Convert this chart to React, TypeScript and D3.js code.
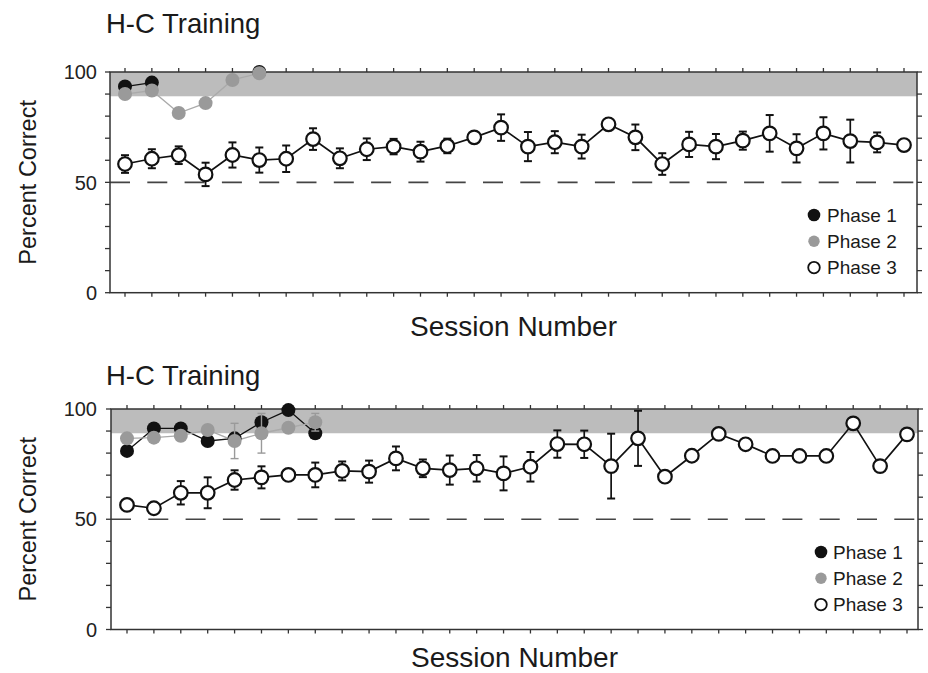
import React, { useEffect, useRef } from 'react';
import * as d3 from 'd3';

// sessions 1..30
const sessions: number[] = d3.range(1, 31);

// top panel
const topPhase1: (number | null)[] = [93.4, 95.2, null, null, null, 100];
const topPhase2: (number | null)[] = [90, 91.6, 81.4, 85.9, 96.4, 99.4];
const topPhase3: number[] = [
  58.3, 60.7, 62.3, 53.6, 62.4, 60.1, 60.7, 69.6, 60.9, 65,
  66.2, 63.9, 66.5, 70.4, 74.8, 66.2, 68.2, 66.2, 76.3, 70.4,
  58.3, 67.2, 66.2, 68.9, 72.2, 65.4, 72.2, 68.7, 68.1, 66.9,
];
const topPhase3Err: number[] = [
  4, 4.3, 4, 5.3, 5.7, 5.7, 6, 4.9, 4.5, 4.9,
  3.5, 4.5, 3.3, 1.5, 6, 6.6, 5, 5.4, 1.5, 5.8,
  4.9, 5.7, 5.7, 4.1, 8.3, 6.4, 7.3, 9.7, 4.5, 0,
];

// bottom panel
const bottomPhase1: (number | null)[] = [81, 91.2, 91.2, 85.5, 86.7, 94, 99.5, 89];
const bottomPhase2: (number | null)[] = [86.7, 87, 87.9, 90.5, 85.5, 89, 91.5, 94];
const bottomPhase2Err: number[] = [0, 0, 0, 0, 8, 9, 0, 4];
const bottomPhase3: number[] = [
  56.5, 55, 62, 62, 67.8, 69, 70.1, 70.1, 71.9, 71.6,
  77.6, 73.1, 72.3, 73.1, 70.8, 73.8, 84.1, 84, 74.1, 86.7,
  69.3, 78.8, 88.7, 84, 78.7, 78.7, 78.7, 93.5, 74.1, 88.5,
];
const bottomPhase3Err: number[] = [
  1.5, 0, 5.3, 7, 4.4, 5, 1.5, 5.6, 4.3, 5,
  5.4, 4, 6.6, 6, 7.7, 6.7, 6.2, 6.2, 14.7, 12.5,
  0, 0, 0, 0, 0, 0, 0, 0, 0, 0,
];

const yTicks: number[] = [0, 50, 100];
const criterion = 89;
const legendLabels = ['Phase 1', 'Phase 2', 'Phase 3'];

const FONT = '"Liberation Sans", Arial, Helvetica, sans-serif';
const GRAY = '#9a9a9a';

const panels = [
  {
    title: 'H-C Training', top: 72, bottom: 292.7, left: 110, right: 917,
    x0: 125, x1: 904, titleY: 33, xLabelY: 336,
    legendDotX: 814, legendTextX: 827, legendY: 215,
    p1: topPhase1, p2: topPhase2, p2err: null as number[] | null,
    p3: topPhase3, p3err: topPhase3Err,
  },
  {
    title: 'H-C Training', top: 409, bottom: 629.5, left: 111, right: 918,
    x0: 127, x1: 907, titleY: 385, xLabelY: 667,
    legendDotX: 821, legendTextX: 833, legendY: 552,
    p1: bottomPhase1, p2: bottomPhase2, p2err: bottomPhase2Err,
    p3: bottomPhase3, p3err: bottomPhase3Err,
  },
];

function drawPanel(svg: any, p: any) {
  const x = d3.scaleLinear().domain([1, 30]).range([p.x0, p.x1]);
  const y = d3.scaleLinear().domain([0, 100]).range([p.bottom, p.top]);
  const g = svg.append('g');

  // criterion band
  g.append('rect')
    .attr('x', p.left).attr('y', y(100))
    .attr('width', p.right - p.left).attr('height', y(criterion) - y(100))
    .attr('fill', '#bcbcbc');

  // chance line
  g.append('line')
    .attr('x1', p.left).attr('x2', p.right)
    .attr('y1', y(50)).attr('y2', y(50))
    .attr('stroke', '#444').attr('stroke-width', 1.6)
    .attr('stroke-dasharray', '20,17.3');

  // frame
  g.append('rect')
    .attr('x', p.left).attr('y', p.top)
    .attr('width', p.right - p.left).attr('height', p.bottom - p.top)
    .attr('fill', 'none').attr('stroke', '#333').attr('stroke-width', 1.5);

  // y ticks: every 10 on both sides, outward
  d3.range(0, 101, 10).forEach((v) => {
    g.append('line').attr('x1', p.left - 5).attr('x2', p.left)
      .attr('y1', y(v)).attr('y2', y(v)).attr('stroke', '#333').attr('stroke-width', 1.3);
    g.append('line').attr('x1', p.right).attr('x2', p.right + 5)
      .attr('y1', y(v)).attr('y2', y(v)).attr('stroke', '#333').attr('stroke-width', 1.3);
  });
  yTicks.forEach((v) => {
    g.append('text')
      .attr('x', 97).attr('y', y(v))
      .attr('dy', '0.36em')
      .attr('text-anchor', 'end')
      .attr('font-family', FONT).attr('font-size', 20).attr('fill', '#222')
      .text(v);
  });

  // x ticks top and bottom, outward
  sessions.forEach((s) => {
    g.append('line').attr('x1', x(s)).attr('x2', x(s))
      .attr('y1', p.top - 4).attr('y2', p.top).attr('stroke', '#333').attr('stroke-width', 1.3);
    g.append('line').attr('x1', x(s)).attr('x2', x(s))
      .attr('y1', p.bottom).attr('y2', p.bottom + 4).attr('stroke', '#333').attr('stroke-width', 1.3);
  });

  // titles
  g.append('text')
    .attr('x', 106).attr('y', p.titleY)
    .attr('font-family', FONT).attr('font-size', 27.5).attr('fill', '#1a1a1a')
    .text(p.title);
  g.append('text')
    .attr('x', (p.left + p.right) / 2).attr('y', p.xLabelY)
    .attr('text-anchor', 'middle')
    .attr('font-family', FONT).attr('font-size', 28).attr('fill', '#1a1a1a')
    .text('Session Number');
  g.append('text')
    .attr('transform', `translate(36, ${(p.top + p.bottom) / 2}) rotate(-90)`)
    .attr('text-anchor', 'middle')
    .attr('font-family', FONT).attr('font-size', 23.5).attr('fill', '#1a1a1a')
    .text('Percent Correct');

  const line = d3.line<any>()
    .defined((d) => d[1] != null)
    .x((d) => x(d[0]))
    .y((d) => y(d[1]));

  const pairs = (arr: (number | null)[]) => arr.map((v, i) => [sessions[i], v]);

  // phase 1 (black)
  g.append('path').attr('d', line(pairs(p.p1)))
    .attr('fill', 'none').attr('stroke', '#111').attr('stroke-width', 1.3);
  // phase 2 (gray)
  g.append('path').attr('d', line(pairs(p.p2)))
    .attr('fill', 'none').attr('stroke', '#aaa').attr('stroke-width', 1.3);

  p.p1.forEach((v: number | null, i: number) => {
    if (v == null) return;
    g.append('circle').attr('cx', x(sessions[i])).attr('cy', y(v)).attr('r', 7).attr('fill', '#111');
  });
  if (p.p2err) {
    p.p2err.forEach((e: number, i: number) => {
      const v = p.p2[i];
      if (!e || v == null) return;
      const cx = x(sessions[i]);
      g.append('line').attr('x1', cx).attr('x2', cx).attr('y1', y(v - e)).attr('y2', y(v + e))
        .attr('stroke', GRAY).attr('stroke-width', 1.4);
      [v - e, v + e].forEach((t) => {
        g.append('line').attr('x1', cx - 4).attr('x2', cx + 4).attr('y1', y(t)).attr('y2', y(t))
          .attr('stroke', GRAY).attr('stroke-width', 1.4);
      });
    });
  }
  p.p2.forEach((v: number | null, i: number) => {
    if (v == null) return;
    g.append('circle').attr('cx', x(sessions[i])).attr('cy', y(v)).attr('r', 7).attr('fill', GRAY);
  });

  // phase 3 (open)
  g.append('path').attr('d', line(pairs(p.p3)))
    .attr('fill', 'none').attr('stroke', '#111').attr('stroke-width', 1.7);
  p.p3err.forEach((e: number, i: number) => {
    if (!e) return;
    const v = p.p3[i];
    const cx = x(sessions[i]);
    g.append('line').attr('x1', cx).attr('x2', cx).attr('y1', y(v - e)).attr('y2', y(v + e))
      .attr('stroke', '#111').attr('stroke-width', 1.7);
    [v - e, v + e].forEach((t) => {
      g.append('line').attr('x1', cx - 4).attr('x2', cx + 4).attr('y1', y(t)).attr('y2', y(t))
        .attr('stroke', '#111').attr('stroke-width', 2);
    });
  });
  p.p3.forEach((v: number, i: number) => {
    g.append('circle').attr('cx', x(sessions[i])).attr('cy', y(v)).attr('r', 6.8)
      .attr('fill', '#fff').attr('stroke', '#111').attr('stroke-width', 2.2);
  });

  // legend
  legendLabels.forEach((label, i) => {
    const ly = p.legendY + i * 26.3;
    const c = g.append('circle').attr('cx', p.legendDotX).attr('cy', ly).attr('r', 6.3);
    if (i === 0) c.attr('fill', '#111');
    else if (i === 1) c.attr('fill', GRAY).attr('r', 5.7);
    else c.attr('fill', '#fff').attr('stroke', '#111').attr('stroke-width', 1.8).attr('r', 5.8);
    g.append('text')
      .attr('x', p.legendTextX).attr('y', ly).attr('dy', '0.36em')
      .attr('font-family', FONT).attr('font-size', 19).attr('fill', '#1a1a1a')
      .text(label);
  });
}

export default function App() {
  const svgRef = useRef<SVGSVGElement>(null);

  useEffect(() => {
    const svg = d3.select(svgRef.current);
    svg.selectAll('*').remove();
    svg.append('rect').attr('width', 928).attr('height', 673).attr('fill', '#fff');
    panels.forEach((p) => drawPanel(svg, p));
  }, []);

  return (
    <svg
      ref={svgRef}
      width={928}
      height={673}
      style={{ position: 'absolute', left: 0, top: 0, display: 'block' }}
    />
  );
}
